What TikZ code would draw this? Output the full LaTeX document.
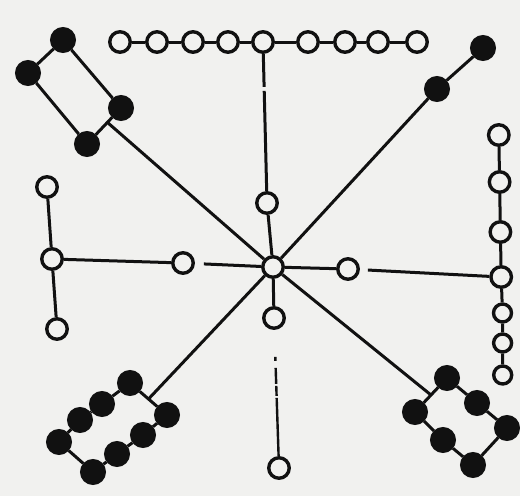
\documentclass[tikz,border=0pt]{standalone}
\usetikzlibrary{calc}
\definecolor{paper}{HTML}{F1F1EF}
\definecolor{ink}{HTML}{111111}
\tikzset{
  % stazione aperta
  opn/.style={circle, draw=ink, line width=3.4pt, fill=paper, minimum size=20.5pt,
    inner sep=0pt},
  opnsmall/.style={opn, minimum size=18pt},
  % stazione piena
  full/.style={circle, draw=ink, line width=2pt, fill=ink, minimum size=24pt,
    inner sep=0pt},
  % collegamenti
  wire/.style={line width=3pt, ink},
  brokenwire/.style={wire, line width=2.4pt},
}

\begin{document}
\begin{tikzpicture}[x=1pt, y=-1pt]
  \fill[paper] (0,0) rectangle (520,496);
  \useasboundingbox (0,0) rectangle (520,496);
  % centro
  \node[opn] (hub) at (273,267) {};
  % fila in alto
  \foreach \x [count=\i] in {120,157,193,228,263,308,345,378,417} {
    \node[opn] (t\i) at (\x,42) {};
  }
  \foreach \i in {2,...,9} {
    \pgfmathtruncatemacro\j{\i-1}
    \draw[wire] (t\j) -- (t\i);
  }
  \node[opn] (ts) at (267,203) {};
  \draw[wire, dash pattern=on 33pt off 4pt on 300pt] (t5) -- (ts);
  \draw[wire] (ts) -- (hub);
  % ramo a sinistra
  \node[opn] (l1) at (183,263) {};
  \node[opn] (lv1) at (47,187) {};
  \node[opn] (lv2) at (52,259) {};
  \node[opn] (lv3) at (57,329) {};
  \draw[wire, dash pattern=on 0pt off 9pt on 300pt] (l1) -- (hub);
  \draw[wire] (lv2) -- (l1);
  \draw[wire] (lv1) -- (lv2) -- (lv3);
  % ramo a destra
  \node[opn] (r1) at (348,269) {};
  \foreach \y [count=\i] in {135,182,232,277} {
    \node[opn] (rc\i) at (498+\i*0.8,\y) {};
  }
  \foreach \y [count=\i from 5] in {313,343,375} {
    \node[opnsmall] (rc\i) at (502+\i*0.1,\y) {};
  }
  \foreach \i in {2,...,7} {
    \pgfmathtruncatemacro\j{\i-1}
    \draw[wire] (rc\j) -- (rc\i);
  }
  \draw[wire] (hub) -- (r1);
  \draw[wire, dash pattern=on 0pt off 8pt on 300pt] (r1) -- (rc4);
  % ramo in basso
  \node[opn] (b1) at (274,318) {};
  \node[opn] (b2) at (279,468) {};
  \draw[wire] (hub) -- (b1);
  \draw[brokenwire, dash pattern=on 0pt off 27pt on 4pt off 7pt on 16pt off 2pt
    on 10pt off 2pt on 300pt] (b1) -- (b2);
  % anello in alto a sinistra
  \node[full] (ul1) at (63,40) {};
  \node[full] (ul2) at (28,73) {};
  \node[full] (ul3) at (87,144) {};
  \node[full] (ul4) at (121,108) {};
  \draw[wire] (ul1) -- (ul2) -- (ul3) -- (ul4) -- (ul1);
  \coordinate (ulhit) at ($(ul4)!0.4!(ul3)$);
  \draw[wire] (hub) -- (ulhit);
  % coppia in alto a destra
  \node[full] (ur1) at (437,89) {};
  \node[full] (ur2) at (483,48) {};
  \draw[wire] (hub) -- (ur1) -- (ur2);
  % anello in basso a sinistra
  \node[full] (lla) at (130,383) {};
  \node[full] (llb) at (102,404) {};
  \node[full] (llc) at (80,420) {};
  \node[full] (lld) at (59,442) {};
  \node[full] (lle) at (93,472) {};
  \node[full] (llf) at (117,454) {};
  \node[full] (llg) at (143,435) {};
  \node[full] (llh) at (167,415) {};
  \draw[wire] (lla) -- (llb) -- (llc) -- (lld) -- (lle) -- (llf) -- (llg) -- (llh) -- (lla);
  \coordinate (llhit) at ($(lla)!0.5!(llh)$);
  \draw[wire] (hub) -- (llhit);
  % anello in basso a destra
  \node[full] (lra) at (447,378) {};
  \node[full] (lrb) at (477,403) {};
  \node[full] (lrc) at (507,428) {};
  \node[full] (lrd) at (473,465) {};
  \node[full] (lre) at (443,440) {};
  \node[full] (lrf) at (415,412) {};
  \draw[wire] (lra) -- (lrb) -- (lrc) -- (lrd) -- (lre) -- (lrf) -- (lra);
  \coordinate (lrhit) at ($(lrf)!0.5!(lra)$);
  \draw[wire] (hub) -- (lrhit);
\end{tikzpicture}
\end{document}
